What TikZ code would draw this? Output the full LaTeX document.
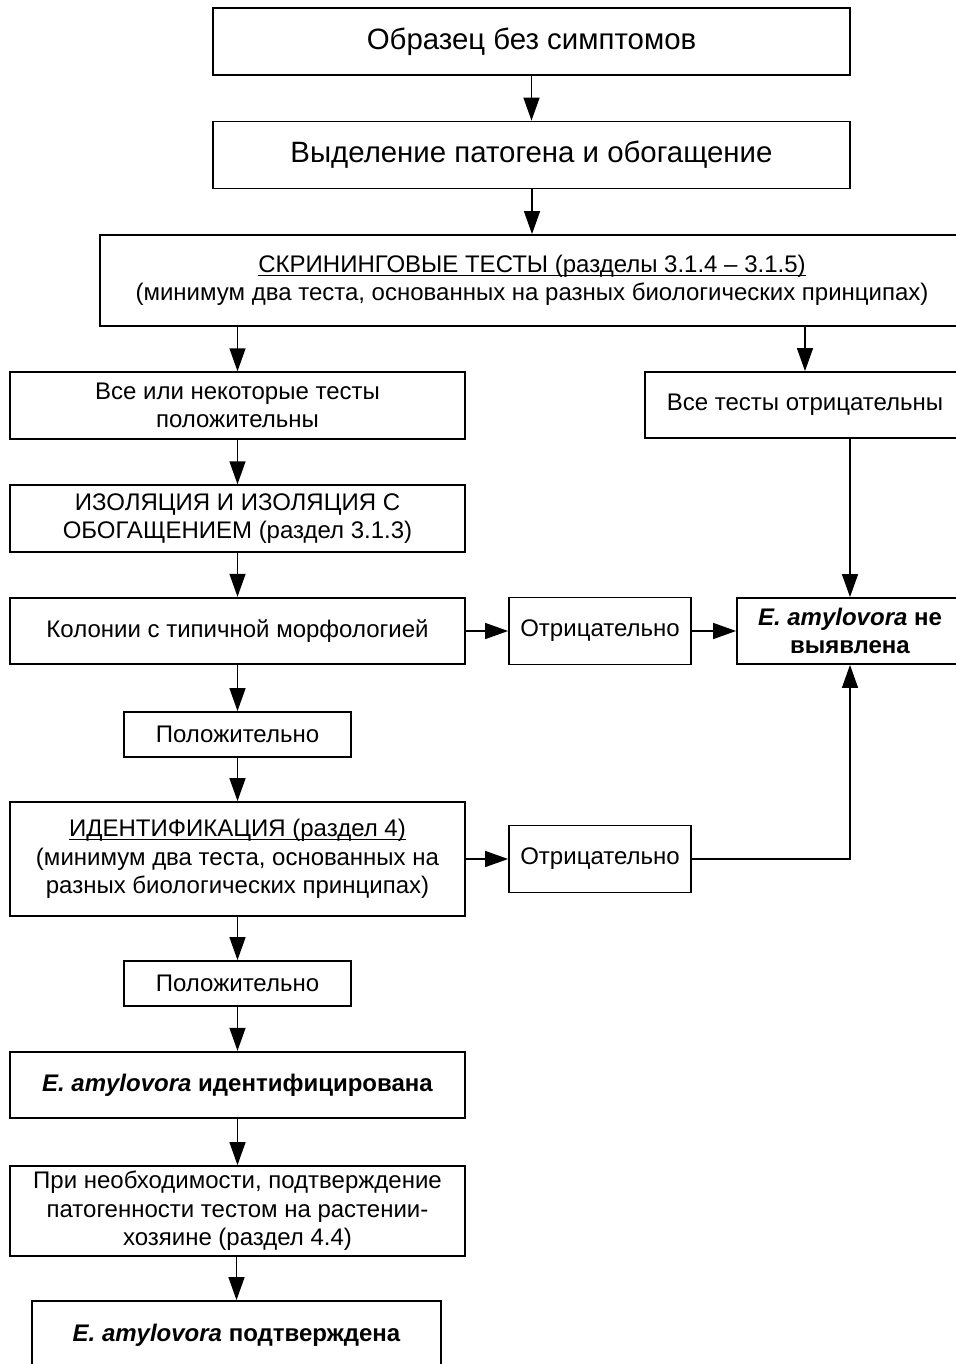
\documentclass[tikz,border=0pt]{standalone}
\usepackage{fontspec}
\setmainfont{Liberation Sans}
\usetikzlibrary{arrows.meta}

\tikzset{
  box/.style={draw, line width=0.9pt, align=center, inner sep=0pt,
    font=\fontsize{12}{14.2}\selectfont},
  bigbox/.style={box, font=\fontsize{14.7}{17}\selectfont,
    minimum width=318.5pt, minimum height=33.5pt},
  colbox/.style={box, minimum width=227.5pt, minimum height=33.3pt},
  posbox/.style={box, minimum width=113.5pt, minimum height=22.5pt},
  negbox/.style={box, minimum width=91pt, minimum height=33.5pt},
  flow/.style={-{Triangle[length=11.5pt,width=8pt]}, line width=0.7pt},
}

\begin{document}
\begin{tikzpicture}[x=0.5pt,y=-0.5pt]
\useasboundingbox (0,0) rectangle (956,1364);
% ---- top: sample and screening ----
\node[bigbox] (sample) at (531.5,41.5) {Образец без симптомов};
\node[bigbox] (enrich) at (531.5,155) {Выделение патогена и обогащение};
\node[box, minimum width=432pt, minimum height=45.5pt] (screen) at (532,280.5)
  {\underline{\smash{СКРИНИНГОВЫЕ ТЕСТЫ (разделы 3.1.4 – 3.1.5)}}\vphantom{(}\\(минимум два теста, основанных на разных биологических принципах)};
\node[colbox] (somepos) at (237.5,405.5) {Все или некоторые тесты\\положительны};
\node[box, minimum width=160pt, minimum height=33pt] (allneg) at (805,405) {Все тесты отрицательны};
% ---- middle: isolation ----
\node[colbox] (isol) at (237.5,518.5) {ИЗОЛЯЦИЯ И ИЗОЛЯЦИЯ С\\ОБОГАЩЕНИЕМ (раздел 3.1.3)};
\node[colbox] (colon) at (237.5,631) {Колонии с типичной морфологией};
\node[negbox] (neg1) at (600,631) {Отрицательно};
\node[box, minimum width=113pt, minimum height=33pt] (notdet) at (850,631)
  {\textbf{\textit{E. amylovora}} \textbf{не}\\\textbf{выявлена}};
\node[posbox] (pos1) at (237.5,734.5) {Положительно};
% ---- identification ----
\node[colbox, minimum height=57pt] (ident) at (237.5,859)
  {\underline{\smash{ИДЕНТИФИКАЦИЯ (раздел 4)}}\vphantom{(}\\(минимум два теста, основанных на\\разных биологических принципах)};
\node[negbox] (neg2) at (600,859) {Отрицательно};
\node[posbox] (pos2) at (237.5,983.5) {Положительно};
\node[colbox] (identok) at (237.5,1085) {\textbf{\textit{E. amylovora} идентифицирована}};
\node[colbox, minimum height=45pt] (host) at (237.5,1211)
  {При необходимости, подтверждение\\патогенности тестом на растении-\\хозяине (раздел 4.4)};
\node[box, minimum width=204.5pt, minimum height=34pt] (confirm) at (236.5,1335)
  {\textbf{\textit{E. amylovora} подтверждена}};
% ---- connectors ----
\foreach \a/\b in {sample/enrich, enrich/screen, screen/somepos, screen/allneg,
    allneg/notdet, somepos/isol, isol/colon, colon/pos1, pos1/ident,
    ident/pos2, pos2/identok, identok/host, host/confirm}
  \draw[flow] (\b.north |- \a.south) -- (\b.north);
\draw[flow] (colon) -- (neg1);
\draw[flow] (neg1) -- (notdet);
\draw[flow] (ident) -- (neg2);
\draw[flow] (neg2) -| (notdet);
\end{tikzpicture}
\end{document}
